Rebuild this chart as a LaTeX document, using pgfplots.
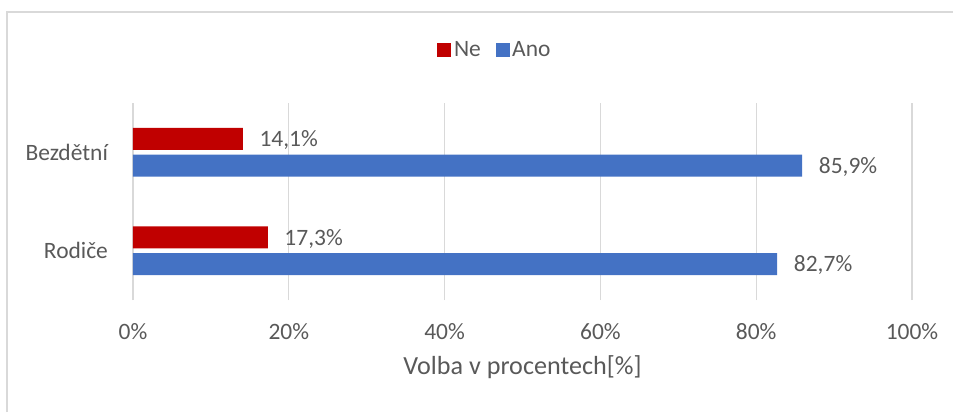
\documentclass[border=0pt]{standalone}
\usepackage{fontspec}
\setmainfont{Carlito}
\usepackage{pgfplots}
\pgfplotsset{compat=1.18}

\definecolor{neRed}{HTML}{C00000}
\definecolor{anoBlue}{HTML}{4472C4}
\definecolor{txtGray}{HTML}{595959}
\definecolor{gridGray}{HTML}{D9D9D9}

\begin{document}
\begin{tikzpicture}[x=0.75pt,y=0.75pt]
\useasboundingbox (-133,-112) rectangle (820,300);
% chart frame (only left and top edges visible)
\draw[gridGray,line width=1.5] (-126,-112) -- (-126,288) -- (820,288);
\begin{axis}[
    at={(0,0)}, anchor=south west,
    scale only axis,
    width=584.25pt, height=147.75pt,
    xbar,
    bar width=16.5pt,
    xmin=0, xmax=100,
    ymin=-0.5, ymax=1.5,
    ytick={0,1},
    yticklabels={Rodiče,Bezdětní},
    xtick={0,20,40,60,80,100},
    xticklabels={0\%,20\%,40\%,60\%,80\%,100\%},
    font=\fontsize{17.6pt}{21pt}\selectfont,
    tick label style={text=txtGray},
    xticklabel style={yshift=-14pt},
    yticklabel style={xshift=-11pt},
    xlabel={Volba v procentech[\%]},
    xlabel style={text=txtGray,yshift=-5pt,font=\fontsize{19.6pt}{23pt}\selectfont},
    xmajorgrids,
    grid style={gridGray,line width=1pt},
    axis line style={draw=none},
    tick style={draw=none},
    clip=false,
    /pgf/number format/assume math mode=true,
    nodes near coords={\pgfmathprintnumber[fixed,fixed zerofill,precision=1,use comma]{\pgfplotspointmeta}\%},
    nodes near coords style={text=txtGray,anchor=west,xshift=9pt,yshift=-1pt},
    point meta=x,
    legend style={at={(0.465,1.27)},anchor=center,draw=none,fill=none,
        legend columns=2,text=txtGray,
        /tikz/every even column/.append style={column sep=9pt}},
    legend image code/.code={\fill[#1] (-2pt,-5.25pt) rectangle (8.5pt,5.25pt);},
]
\addplot[fill=neRed,draw=none,bar shift=10pt] coordinates {
    (17.3,0)
    (14.1,1)
};
\addplot[fill=anoBlue,draw=none,bar shift=-10pt] coordinates {
    (82.7,0)
    (85.9,1)
};
\legend{Ne,Ano}
\end{axis}
\end{tikzpicture}
\end{document}
